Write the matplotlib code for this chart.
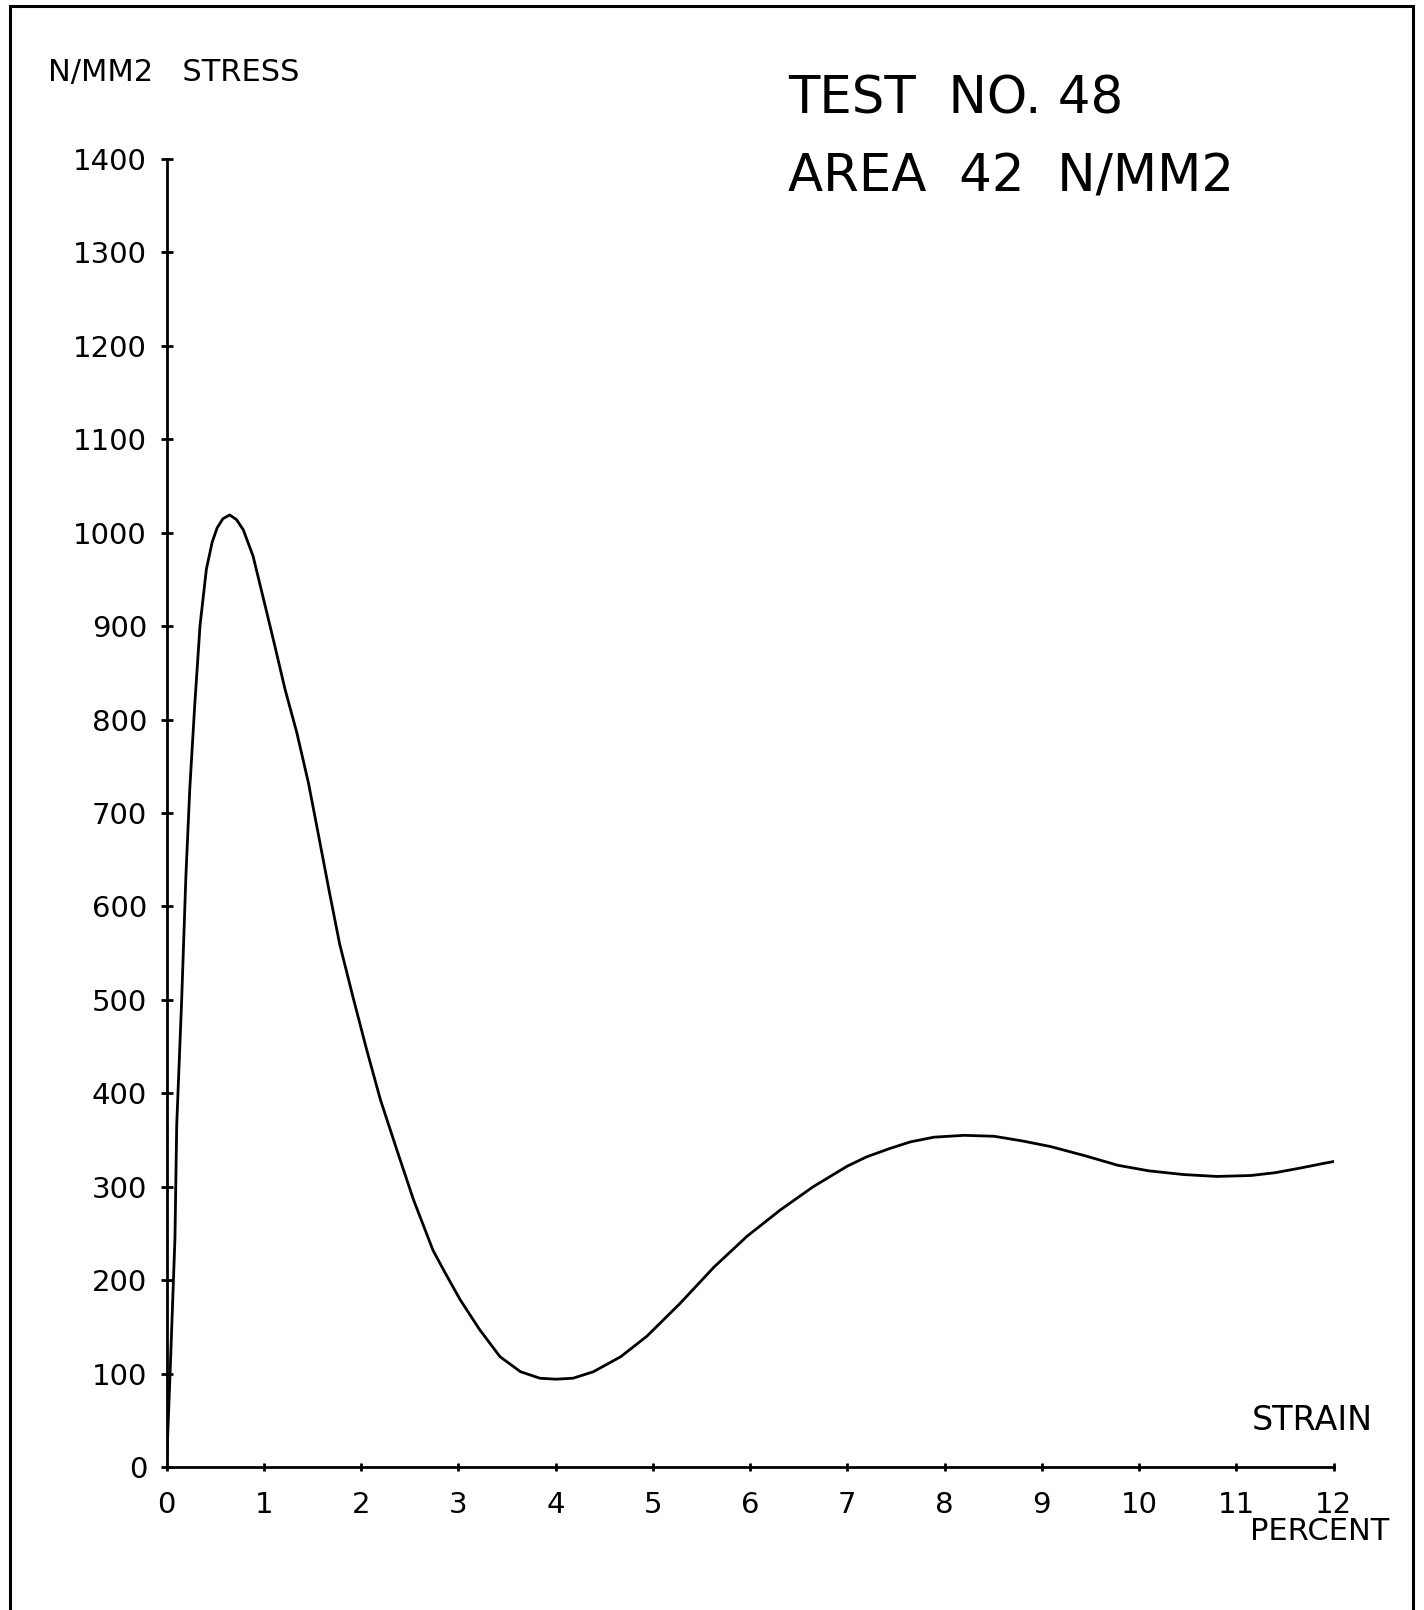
import numpy as np
import matplotlib
matplotlib.use("Agg")
import matplotlib.pyplot as plt
from matplotlib.lines import Line2D

# strain in percent, stress in N/mm2
strain = [0, 0.036, 0.087, 0.105, 0.156, 0.20, 0.24, 0.29, 0.345, 0.41, 0.47,
          0.52, 0.58, 0.65, 0.72, 0.79, 0.89, 1.0, 1.10, 1.22, 1.34, 1.46,
          1.56, 1.67, 1.78, 1.92, 2.06, 2.20, 2.37, 2.54, 2.74, 2.88, 3.02,
          3.22, 3.43, 3.64, 3.84, 4.0, 4.18, 4.39, 4.67, 4.94, 5.28, 5.63,
          5.97, 6.31, 6.65, 7.0, 7.2, 7.44, 7.65, 7.89, 8.2, 8.51, 8.8, 9.09,
          9.45, 9.78, 10.1, 10.46, 10.8, 11.15, 11.4, 11.66, 11.9, 12.11]
stress = [0, 98, 245, 366, 500, 634, 727, 815, 901, 961, 990,
          1005, 1015, 1019, 1014, 1003, 975, 928, 885, 832, 786, 732,
          678, 618, 560, 502, 446, 393, 339, 286, 232, 205, 179,
          147, 118, 102, 95, 94, 95, 102, 118, 140, 175, 214,
          247, 275, 300, 322, 332, 341, 348, 353, 355, 354, 349, 343,
          333, 323, 317, 313, 311, 312, 315, 320, 325, 329]

xticks = list(range(0, 13))
yticks = list(range(0, 1401, 100))

W, H = 1424, 1610
fig = plt.figure(figsize=(W / 100, H / 100), dpi=100)
fig.patch.set_facecolor("white")

# axes box: x 0..12 -> px 166.5..1333.5, y 0..1400 -> px 1467..159
ax = fig.add_axes([166.5 / W, 1 - 1467 / H, (1333.5 - 166.5) / W, (1467 - 159) / H])
ax.plot(strain, stress, color="black", lw=2.0, solid_capstyle="round",
        solid_joinstyle="round")

ax.set_xlim(0, 12)
ax.set_ylim(0, 1400)
ax.set_xticks(xticks)
ax.set_yticks(yticks)
ax.set_xticklabels([str(t) for t in xticks])
ax.set_yticklabels([str(t) for t in yticks])
for s in ["top", "right"]:
    ax.spines[s].set_visible(False)
for s in ["left", "bottom"]:
    ax.spines[s].set_linewidth(2.0)
ax.tick_params(axis="y", direction="inout", length=8, width=2, pad=10, labelsize=21)
ax.tick_params(axis="x", direction="inout", length=6, width=2, pad=14, labelsize=21)
ax.set_facecolor("none")

# texts
fig.text(48 / W, 1 - 72 / H, "N/MM2   STRESS", fontsize=22, ha="left", va="center")
fig.text(788 / W, 1 - 100 / H, "TEST  NO. 48", fontsize=37, ha="left", va="center")
fig.text(788 / W, 1 - 177 / H, "AREA  42  N/MM2", fontsize=37, ha="left", va="center")
fig.text(1252 / W, 1 - 1420 / H, "STRAIN", fontsize=24, ha="left", va="center")
fig.text(1250 / W, 1 - 1531 / H, "PERCENT", fontsize=22, ha="left", va="center")

# sheet frame
fig.add_artist(Line2D([10 / W, 10 / W], [0, 1 - 6 / H], transform=fig.transFigure,
                      color="black", lw=2.2))
fig.add_artist(Line2D([1413 / W, 1413 / W], [0, 1 - 6 / H], transform=fig.transFigure,
                      color="black", lw=2.2))
fig.add_artist(Line2D([10 / W, 1413 / W], [1 - 6 / H, 1 - 6 / H], transform=fig.transFigure,
                      color="black", lw=2.2))

fig.savefig("out.png", dpi=100, facecolor="white")
